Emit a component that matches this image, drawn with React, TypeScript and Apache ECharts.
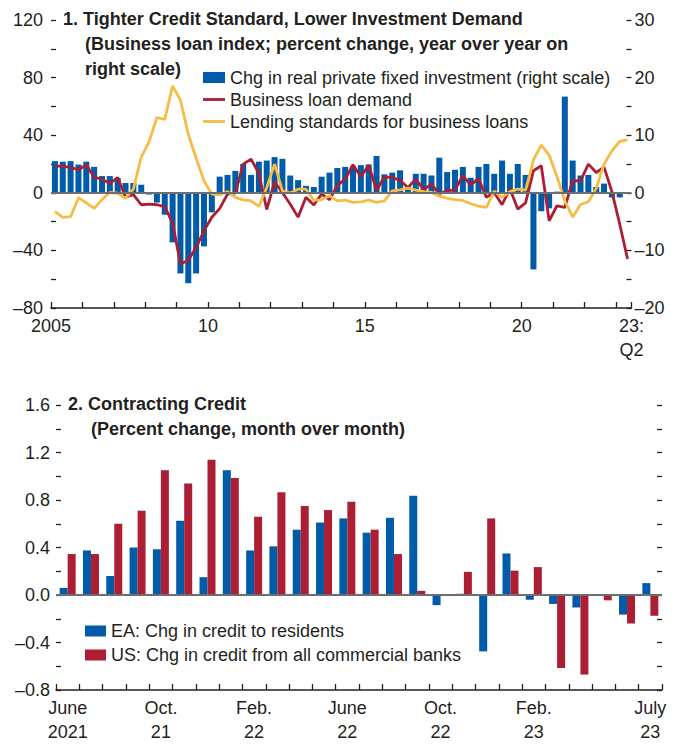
import React, { useEffect, useRef } from 'react';
import * as echarts from 'echarts';

// ---------- Panel 1 data (quarterly, 2005:Q1 – 2023:Q2) ----------
const quarters: string[] = [];
for (let y = 2005; y <= 2023; y++) {
  for (let q = 1; q <= 4; q++) {
    if (y === 2023 && q > 2) break;
    quarters.push(`${y}Q${q}`);
  }
}

// Chg in real private fixed investment, percent y/y (right scale)
const investment: (number | null)[] = [
  5.5, 5.4, 5.5, 4.9, 5.4, 4.5, 2.9, 2.9, 2.6, 1.7,
  1.7, 1.4, -0.3, -1.7, -3.8, -8.6, -14.0, -15.7, -14.0, -9.3,
  -3.4, 2.8, 3.1, 3.8, 5.0, 3.1, 5.4, 5.6, 6.2, 5.9,
  3.0, 2.2, 1.2, 1.0, 2.8, 3.5, 4.3, 4.5, 4.6, 4.8,
  4.9, 6.4, 3.2, 3.5, 3.9, 1.2, 3.3, 3.3, 3.0, 6.1,
  3.6, 4.0, 4.5, 2.6, 4.5, 5.0, 3.3, 5.6, 3.3, 5.0,
  3.1, -13.3, -3.2, -2.7, 0.2, 16.7, 5.6, 3.0, 3.1, 1.0,
  1.6, -0.8, -0.8, null,
];

// Business loan demand (index)
const loanDemand: number[] = [
  18.75, 18.3, 17.6, 16, 19.4, 10.8, 9.5, 6.5, 10.6, -3,
  -1.2, -8.3, -7.9, -8.3, -9.6, -21, -49.5, -46.8, -38, -26.4,
  -17, -11, -0.9, -0.3, 19.9, 23.4, 13.5, -11.6, 7.5, 0.2,
  -7.9, -16.9, -3.1, -8.5, -0.9, -4.8, 5.2, 9.5, 19.5, 11.2,
  19.3, 1.6, 11.1, 10.6, 8.6, 3.7, 9.5, 2.2, 6, -0.7,
  1.4, 2.1, 11.8, 5.5, 9.8, -3.2, 0.2, -8.3, 2.8, -11.3,
  -7, 15.3, 18.75, -19.4, -9, -10.2, 8.5, 8.3, 19.9, 14.1,
  17.8, 0.8, -21.8, -46,
];

// Lending standards for business loans (index)
const lendingStandards: number[] = [
  -13, -17, -16.6, -3.4, -7, -10.8, -4.7, 0.2, -0.3, -3.9,
  2.5, 24.7, 35.4, 52.3, 51, 74.3, 64.4, 40.7, 24, 8.3,
  -0.9, -1.4, 0.9, -3.2, -4.9, -5.6, -9.5, 3.7, 19.9, 1.4,
  -0.2, 2.5, 2.5, -5.1, -4.9, -2.1, -5.6, -5.1, -6.7, -6.3,
  -5.1, -6.7, -5.6, 1.4, 2.1, 3.2, 1.9, 0.8, 0.3, -2.3,
  -3.8, -4.8, -5.3, -7.6, -9.2, -10.2, 1.1, -3.2, 0.8, 2.5,
  1.8, 22.8, 33.2, 26.2, 11.2, -5.6, -16.8, -8.1, -6.2, 2.9,
  19.9, 29.1, 35.8, 36.7,
];

// x-axis tick labels of panel 1 (position in quarters from 2005:Q1)
const topTickPos = [0, 20, 40, 60, 74];
const topTickText = ['2005', '10', '15', '20', '23:\nQ2'];

// ---------- Panel 2 data (monthly, June 2021 – July 2023) ----------
const months: string[] = [];
for (let i = 0; i < 26; i++) {
  const m = 5 + i; // June 2021 = month index 5
  const y = 2021 + Math.floor(m / 12);
  months.push(`${y}-${String((m % 12) + 1).padStart(2, '0')}`);
}

const eaCredit: number[] = [
  0.06, 0.375, 0.16, 0.40, 0.385, 0.625, 0.15, 1.05, 0.375, 0.41,
  0.55, 0.61, 0.645, 0.525, 0.65, 0.835, -0.085, 0.01, -0.475, 0.35,
  -0.04, -0.075, -0.105, 0.004, -0.165, 0.10,
];

const usCredit: number[] = [
  0.345, 0.345, 0.60, 0.71, 1.05, 0.94, 1.14, 0.985, 0.66, 0.865,
  0.75, 0.715, 0.785, 0.55, 0.345, 0.035, -0.005, 0.195, 0.645, 0.205,
  0.235, -0.615, -0.67, -0.045, -0.24, -0.175,
];

const bottomTickIdx = [0, 4, 8, 12, 16, 20, 25];
const bottomTickText = ['June\n2021', 'Oct.\n21', 'Feb.\n22', 'June\n22', 'Oct.\n22', 'Feb.\n23', 'July\n23'];

// ---------- styles ----------
const FONT = "'Liberation Sans', Arial, Helvetica, sans-serif";
const INK = '#231F20';
const BLUE = '#005BA8';
const RED = '#AC1E33';
const YELLOW = '#F6BC45';
const ZERO = '#6D6E71';

const S_INV = 'Chg in real private fixed investment (right scale)';
const S_DEM = 'Business loan demand';
const S_STD = 'Lending standards for business loans';
const S_EA = 'EA: Chg in credit to residents';
const S_US = 'US: Chg in credit from all commercial banks';

const MINUS = '\u2013';
const fmtInt = (v: number) => (v < 0 ? MINUS + Math.abs(v) : String(v));

const titleStyle = { fontSize: 18, fontWeight: 'bold' as const, color: INK, fontFamily: FONT, lineHeight: 24.5 };
const labelStyle = { fontSize: 18, color: INK, fontFamily: FONT };
const tickStyle = { color: INK, width: 1.3 };
const lineIcon = 'path://M0 0H22V2.8H0Z';

function buildOption(): any {
  return {
    animation: false,
    textStyle: { fontFamily: FONT, color: INK },
    title: [
      { text: '1. Tighter Credit Standard, Lower Investment Demand', left: 63, top: 7, padding: 0, textStyle: titleStyle },
      { text: '(Business loan index; percent change, year over year on\nright scale)', left: 85, top: 32, padding: 0, textStyle: titleStyle },
      { text: '2. Contracting Credit', left: 68, top: 392, padding: 0, textStyle: titleStyle },
      { text: '(Percent change, month over month)', left: 91, top: 417, padding: 0, textStyle: titleStyle },
    ],
    legend: [
      {
        orient: 'vertical', left: 203, top: 66.5, padding: 0, itemGap: 0,
        itemWidth: 22, itemHeight: 11, selectedMode: false,
        textStyle: { ...labelStyle, lineHeight: 22 },
        data: [
          { name: S_INV, icon: 'rect', itemStyle: { borderWidth: 0 } },
          { name: S_DEM, icon: lineIcon, itemStyle: { borderWidth: 0 } },
          { name: S_STD, icon: lineIcon, itemStyle: { borderWidth: 0 } },
        ],
      },
      {
        orient: 'vertical', left: 85, top: 619, padding: 0, itemGap: 0,
        itemWidth: 21, itemHeight: 11, selectedMode: false,
        textStyle: { ...labelStyle, lineHeight: 24 },
        data: [
          { name: S_EA, icon: 'rect', itemStyle: { borderWidth: 0 } },
          { name: S_US, icon: 'rect', itemStyle: { borderWidth: 0 } },
        ],
      },
    ],
    grid: [
      { left: 51, top: 20, width: 580.5, height: 288 },
      { left: 56, top: 405, width: 606, height: 288 },
    ],
    xAxis: [
      {
        type: 'category', gridIndex: 0, data: quarters, boundaryGap: true,
        axisLine: { show: false }, axisTick: { show: false }, axisLabel: { show: false }, splitLine: { show: false },
      },
      {
        type: 'value', gridIndex: 0, position: 'bottom', min: 0, max: 74, interval: 4,
        axisLine: { show: true, onZero: false, lineStyle: { color: INK, width: 1.5 } },
        axisTick: { show: true, inside: true, length: 6, lineStyle: tickStyle },
        splitLine: { show: false },
        axisLabel: {
          ...labelStyle, lineHeight: 24, margin: 6, showMinLabel: true, showMaxLabel: true,
          formatter: (v: number) => {
            const k = topTickPos.indexOf(Math.round(v));
            return k >= 0 ? topTickText[k] : '';
          },
        },
      },
      {
        type: 'category', gridIndex: 1, data: months, boundaryGap: true,
        axisLine: { show: true, onZero: false, lineStyle: { color: INK, width: 1.5 } },
        axisTick: { show: true, inside: true, length: 6, interval: 0, lineStyle: tickStyle },
        splitLine: { show: false },
        axisLabel: {
          ...labelStyle, lineHeight: 24, margin: 6,
          interval: (i: number) => bottomTickIdx.indexOf(i) >= 0,
          formatter: (_v: string, i: number) => {
            const k = bottomTickIdx.indexOf(i);
            return k >= 0 ? bottomTickText[k] : '';
          },
        },
      },
    ],
    yAxis: [
      {
        type: 'value', gridIndex: 0, position: 'left', min: -80, max: 120, interval: 20,
        axisLine: { show: false }, splitLine: { show: false },
        axisTick: { show: true, inside: true, length: 5, lineStyle: tickStyle },
        axisLabel: { ...labelStyle, margin: 8, formatter: (v: number) => (v % 40 === 0 ? fmtInt(v) : '') },
      },
      {
        type: 'value', gridIndex: 0, position: 'right', min: -20, max: 30, interval: 5,
        axisLine: { show: false }, splitLine: { show: false },
        axisTick: { show: true, inside: true, length: 5, lineStyle: tickStyle },
        axisLabel: { ...labelStyle, margin: 3, formatter: (v: number) => (v % 10 === 0 ? fmtInt(v) : '') },
      },
      {
        type: 'value', gridIndex: 1, position: 'left', min: -0.8, max: 1.6, interval: 0.2,
        axisLine: { show: false }, splitLine: { show: false },
        axisTick: { show: true, inside: true, length: 5, lineStyle: tickStyle },
        axisLabel: {
          ...labelStyle, margin: 6,
          formatter: (v: number) => {
            const k = Math.round(v * 10);
            if (k % 4 !== 0) return '';
            const s = Math.abs(k / 10).toFixed(1);
            return k < 0 ? MINUS + s : s;
          },
        },
      },
      {
        type: 'value', gridIndex: 1, position: 'right', min: -0.8, max: 1.6, interval: 0.2,
        axisLine: { show: false }, splitLine: { show: false },
        axisTick: { show: true, inside: true, length: 5, lineStyle: tickStyle },
        axisLabel: { show: false },
      },
    ],
    series: [
      {
        name: S_INV, type: 'bar', xAxisIndex: 0, yAxisIndex: 1, data: investment,
        barWidth: 6, itemStyle: { color: BLUE },
        markLine: {
          silent: true, symbol: ['none', 'none'], label: { show: false },
          lineStyle: { color: ZERO, width: 2, type: 'solid' },
          emphasis: { disabled: true },
          data: [{ yAxis: 0 }],
        },
      },
      {
        name: S_DEM, type: 'line', xAxisIndex: 0, yAxisIndex: 0, data: loanDemand,
        symbol: 'none', showSymbol: false,
        lineStyle: { color: RED, width: 2.8 }, itemStyle: { color: RED },
      },
      {
        name: S_STD, type: 'line', xAxisIndex: 0, yAxisIndex: 0, data: lendingStandards,
        symbol: 'none', showSymbol: false,
        lineStyle: { color: YELLOW, width: 2.8 }, itemStyle: { color: YELLOW },
      },
      {
        name: S_EA, type: 'bar', xAxisIndex: 2, yAxisIndex: 2, data: eaCredit,
        barWidth: 8, barGap: '0%', itemStyle: { color: BLUE },
      },
      {
        name: S_US, type: 'bar', xAxisIndex: 2, yAxisIndex: 2, data: usCredit,
        barWidth: 8, barGap: '0%', itemStyle: { color: RED },
        markLine: {
          silent: true, symbol: ['none', 'none'], label: { show: false },
          lineStyle: { color: ZERO, width: 2, type: 'solid' },
          emphasis: { disabled: true },
          data: [{ yAxis: 0 }],
        },
      },
    ],
  };
}

export default function App() {
  const ref = useRef<HTMLDivElement>(null);
  useEffect(() => {
    if (!ref.current) return;
    const chart = echarts.init(ref.current, undefined, { renderer: 'svg' });
    chart.setOption(buildOption());
    return () => chart.dispose();
  }, []);
  return (
    <div
      ref={ref}
      style={{ position: 'absolute', left: 0, top: 0, width: 679, height: 744, background: '#fff' }}
    />
  );
}
